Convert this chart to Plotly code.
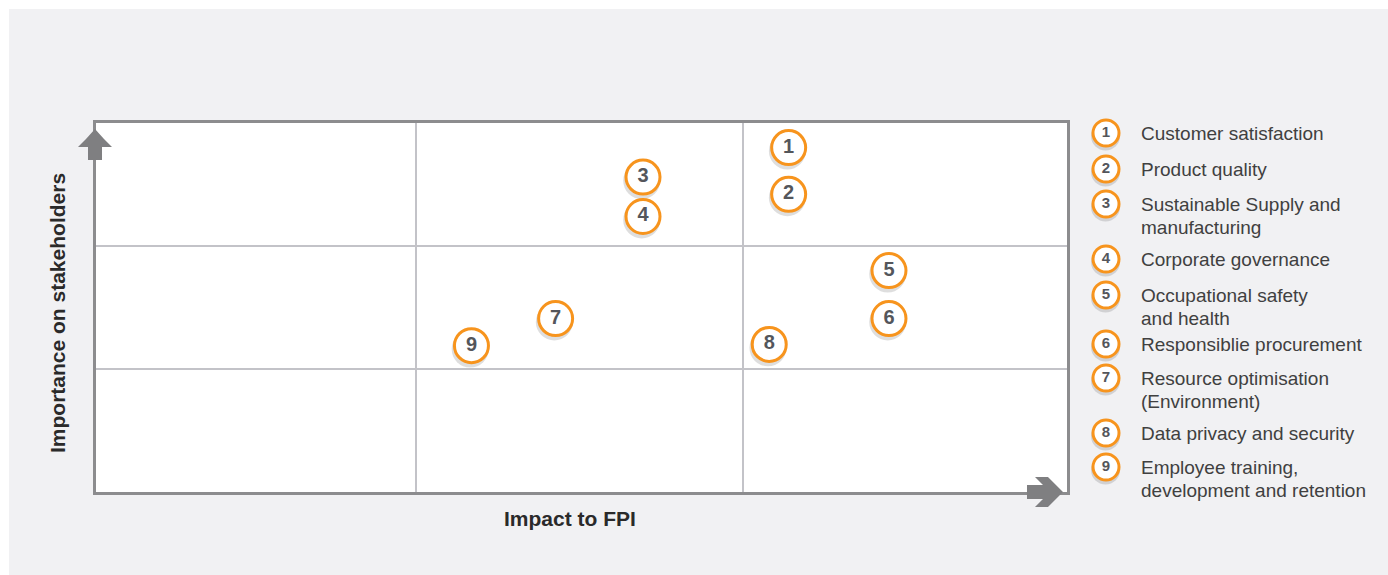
import plotly.graph_objects as go

# ---- data ----
ids = [1, 2, 3, 4, 5, 6, 7, 8, 9]
impact_fpi = [2.14, 2.14, 1.69, 1.69, 2.45, 2.45, 1.42, 2.08, 1.16]
importance = [2.80, 2.42, 2.56, 2.24, 1.80, 1.41, 1.41, 1.20, 1.19]
labels = [
    "Customer satisfaction",
    "Product quality",
    "Sustainable Supply and<br>manufacturing",
    "Corporate governance",
    "Occupational safety<br>and health",
    "Responsiblie procurement",
    "Resource optimisation<br>(Environment)",
    "Data privacy and security",
    "Employee training,<br>development and retention",
]
x_title = "Impact to FPI"
y_title = "Importance on stakeholders"

# ---- layout helpers (pixel geometry) ----
W, H = 1388, 575
PL, PR, PT, PB = 96, 1067, 123, 492  # plot area in px
ORANGE = "#F7941D"
NUMCOL = "#54565B"
FONT = "Liberation Sans, Arial, Helvetica, sans-serif"
legend_row_y = [133, 169, 204, 259, 295, 344, 378, 433, 467]
legend_cx = 1106
legend_tx = 1139
line_step = 23


def px(x):
    return x / W


def py(y):
    return 1 - y / H


fig = go.Figure()

# shadows under main markers
fig.add_trace(go.Scatter(
    x=[v - 0.004 for v in impact_fpi], y=[v - 0.028 for v in importance],
    mode="markers", xaxis="x", yaxis="y", hoverinfo="skip",
    marker=dict(size=37, color="rgba(0,0,0,0.13)", line=dict(width=0)),
    cliponaxis=False, showlegend=False,
))
# main markers
fig.add_trace(go.Scatter(
    x=impact_fpi, y=importance, mode="markers+text", xaxis="x", yaxis="y",
    text=[f"<b>{n}</b>" for n in ids], textposition="middle center",
    textfont=dict(family=FONT, size=20, color=NUMCOL),
    marker=dict(size=34, color="white", line=dict(color=ORANGE, width=3)),
    cliponaxis=False, showlegend=False,
))
# legend shadows
fig.add_trace(go.Scatter(
    x=[legend_cx - 0.5] * len(ids), y=[r + 3 for r in legend_row_y],
    mode="markers", xaxis="x2", yaxis="y2", hoverinfo="skip",
    marker=dict(size=29, color="rgba(0,0,0,0.13)", line=dict(width=0)),
    cliponaxis=False, showlegend=False,
))
# legend markers
fig.add_trace(go.Scatter(
    x=[legend_cx] * len(ids), y=legend_row_y, mode="markers+text",
    xaxis="x2", yaxis="y2",
    text=[f"<b>{n}</b>" for n in ids], textposition="middle center",
    textfont=dict(family=FONT, size=15, color=NUMCOL),
    marker=dict(size=26, color="white", line=dict(color=ORANGE, width=3)),
    cliponaxis=False, showlegend=False,
))

annotations = []
for lab, ry in zip(labels, legend_row_y):
    for k, line in enumerate(lab.split("<br>")):
        annotations.append(dict(
            xref="x2", yref="y2", x=legend_tx, y=ry + k * line_step, text=line,
            showarrow=False, xanchor="left", yanchor="middle", align="left",
            font=dict(family=FONT, size=19, color="#404040"),
        ))
annotations.append(dict(
    xref="paper", yref="paper", x=px(570), y=py(518), text=f"<b>{x_title}</b>",
    showarrow=False, xanchor="center", yanchor="middle",
    font=dict(family=FONT, size=21, color="#2a2a2a"),
))
annotations.append(dict(
    xref="paper", yref="paper", x=px(57), y=py(313), text=f"<b>{y_title}</b>",
    showarrow=False, xanchor="center", yanchor="middle", textangle=-90,
    font=dict(family=FONT, size=21, color="#2a2a2a"),
))


def path(pts):
    return "M " + " L ".join(f"{px(a):.5f},{py(b):.5f}" for a, b in pts) + " Z"


ARROW = "#7F7F81"
right_arrow = [(1027, 485), (1043, 485), (1035, 477), (1048, 477), (1063, 492),
               (1048, 507), (1035, 507), (1043, 499), (1027, 499)]
up_arrow = [(88, 160), (88, 147), (78, 147), (86, 139), (95, 129), (104, 139),
            (112, 147), (102, 147), (102, 160)]

shapes = [
    dict(type="rect", xref="paper", yref="paper", x0=px(9), x1=1, y0=0, y1=py(9),
         fillcolor="#F1F1F3", line=dict(width=0), layer="below"),
    dict(type="rect", xref="paper", yref="paper", x0=px(PL), x1=px(PR), y0=py(PB), y1=py(PT),
         fillcolor="white", line=dict(width=0), layer="below"),
    dict(type="path", xref="paper", yref="paper", path=path(up_arrow),
         fillcolor=ARROW, line=dict(width=0), layer="above"),
    dict(type="path", xref="paper", yref="paper", path=path(right_arrow),
         fillcolor=ARROW, line=dict(width=0), layer="above"),
]

fig.update_layout(
    width=W, height=H, margin=dict(l=0, r=0, t=0, b=0),
    paper_bgcolor="white", plot_bgcolor="rgba(0,0,0,0)",
    font=dict(family=FONT),
    showlegend=False,
    xaxis=dict(domain=[px(PL), px(PR)], range=[0, 3], tickvals=[0.99, 2.0],
               showticklabels=False, ticks="", showgrid=True, gridcolor="#C3C3C8",
               gridwidth=2, zeroline=False, showline=True, linecolor="#8C8C8E",
               linewidth=3, mirror=True, anchor="y", fixedrange=True),
    yaxis=dict(domain=[py(PB), py(PT)], range=[0, 3], tickvals=[1, 2],
               showticklabels=False, ticks="", showgrid=True, gridcolor="#C3C3C8",
               gridwidth=2, zeroline=False, showline=True, linecolor="#8C8C8E",
               linewidth=3, mirror=True, anchor="x", fixedrange=True),
    xaxis2=dict(domain=[px(1075), 1], range=[1075, W], visible=False,
                anchor="y2", fixedrange=True),
    yaxis2=dict(domain=[0, 1], range=[H, 0], visible=False,
                anchor="x2", fixedrange=True),
    annotations=annotations,
    shapes=shapes,
)

fig.write_html("out.html")
